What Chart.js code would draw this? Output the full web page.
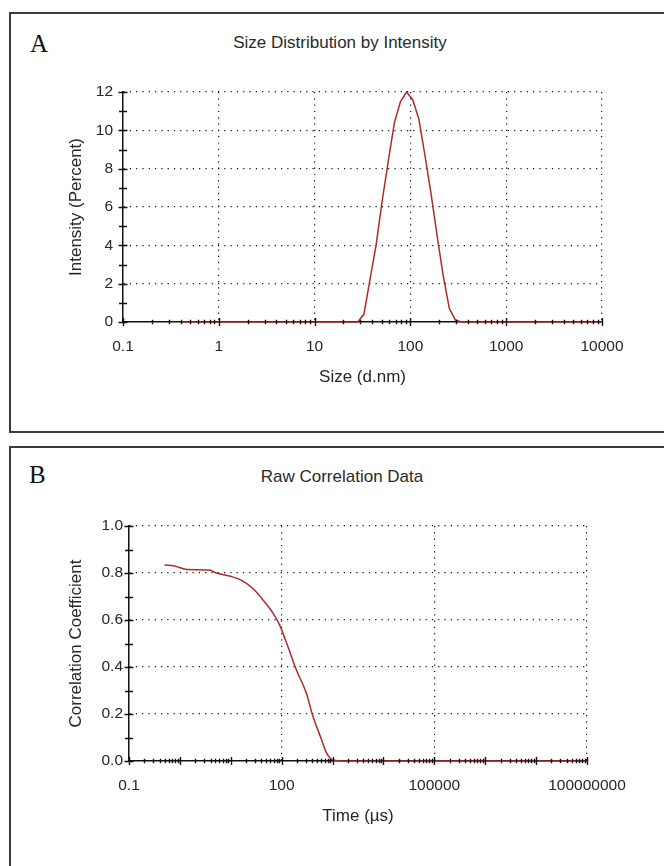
<!DOCTYPE html>
<html>
<head>
<meta charset="utf-8">
<script src="https://cdn.jsdelivr.net/npm/chart.js@4.4.1/dist/chart.umd.min.js"></script>
<style>
  html, body { margin: 0; padding: 0; background: #fff; }
  body { width: 664px; height: 866px; position: relative; overflow: hidden; }
  .panel { position: absolute; left: 9px; width: 720px; border: 2px solid #3a3a3a; box-sizing: border-box; background: #fff; }
  .letter { position: absolute; font-family: "Liberation Serif", serif; font-size: 25px; line-height: 25px; color: #111; }
  .ttl { position: absolute; left: 0; text-align: center; font-family: "Liberation Sans", Arial, sans-serif; font-size: 17px; line-height: 20px; color: #2a2a2a; }
  canvas { position: absolute; left: 0; }
</style>
</head>
<body>
<div class="panel" style="top:12px; height:421px;"></div>
<div class="panel" style="top:446px; height:440px;"></div>
<div class="letter" style="left:30px; top:31px;">A</div>
<div class="letter" style="left:29px; top:462px;">B</div>
<div class="ttl" style="top:33px; width:680px;">Size Distribution by Intensity</div>
<div class="ttl" style="top:467px; width:684px;">Raw Correlation Data</div>
<canvas id="chartA" width="664" height="410" style="top:0px;"></canvas>
<canvas id="chartB" width="664" height="414" style="top:435px;"></canvas>
<script>
// A: size distribution by intensity
const sizeNm = [0.4, 1, 10, 28.2, 32.7, 37.8, 43.8, 50.7, 58.8, 68.1, 78.8, 91.3, 105.7, 122.4, 141.8, 164.2, 190.1, 220.2, 255.0, 295.3, 342.0, 1000, 10000];
const intensityPct = [0, 0, 0, 0, 0.4, 2.2, 4.0, 6.3, 8.4, 10.4, 11.5, 12.0, 11.6, 10.6, 8.7, 6.7, 4.5, 2.4, 0.7, 0.1, 0, 0, 0];
const sizeTicks = [0.1, 1, 10, 100, 1000, 10000];
const intensityTicks = [0, 2, 4, 6, 8, 10, 12];

// B: raw correlation data
const timeUs = [0.5, 0.75, 1.4, 3.8, 5.2, 9.5, 16, 27, 43, 68, 91, 133, 195, 306, 413, 612, 740, 900, 1150, 1500, 10000, 1000000, 100000000];
const corrCoef = [0.834, 0.831, 0.815, 0.813, 0.800, 0.787, 0.770, 0.735, 0.685, 0.628, 0.579, 0.486, 0.387, 0.288, 0.189, 0.089, 0.040, 0.012, 0.002, 0, 0, 0, 0];
const timeTicks = [0.1, 100, 100000, 100000000];
const corrTicks = [0.0, 0.2, 0.4, 0.6, 0.8, 1.0];

const lineRed = '#ad2b2b';
const textCol = '#262626';
const gridCol = '#111';

// decade + 2..9 minor positions for a log axis
function logTickValues(min, max) {
  const out = [];
  for (let e = Math.round(Math.log10(min)); e <= Math.round(Math.log10(max)); e++) {
    const d = Math.pow(10, e);
    out.push(d);
    if (d < max) for (let m = 2; m <= 9; m++) out.push(m * d);
  }
  return out;
}
function linTickValues(max, step) {
  const out = [];
  const n = Math.round(max / step);
  for (let i = 0; i <= n; i++) out.push(+(i * step).toFixed(3));
  return out;
}
const near = (a, b) => Math.abs(a - b) < 1e-9 * Math.max(1, Math.abs(b));
const isIn = (v, list) => list.some(t => near(v, t));

// short tick marks that cross the axis lines
const crossTicks = {
  id: 'crossTicks',
  afterDatasetsDraw(chart) {
    const { ctx, chartArea } = chart;
    const xs = chart.scales.x, ys = chart.scales.y;
    ctx.save();
    ctx.strokeStyle = '#111';
    ctx.lineWidth = 1.4;
    ctx.beginPath();
    xs.ticks.forEach(t => {
      const px = Math.round(xs.getPixelForValue(t.value)) + 0.5;
      const len = t.decade ? 4 : 2.2;
      ctx.moveTo(px, chartArea.bottom - len);
      ctx.lineTo(px, chartArea.bottom + len);
    });
    ys.ticks.forEach(t => {
      const py = Math.round(ys.getPixelForValue(t.value)) + 0.5;
      const len = t.labeled ? 4.5 : 4;
      ctx.moveTo(chartArea.left - len, py);
      ctx.lineTo(chartArea.left + len, py);
    });
    ctx.stroke();
    ctx.restore();
  }
};

function makeChart(id, cfg) {
  const font = { family: '"Liberation Sans", Arial, sans-serif', size: 17 };
  const tickFont = { family: '"Liberation Sans", Arial, sans-serif', size: 15.5 };
  return new Chart(document.getElementById(id), {
    type: 'line',
    data: {
      datasets: [{
        data: cfg.xs.map((x, i) => ({ x: x, y: cfg.ys[i] })),
        borderColor: lineRed,
        borderWidth: 1.5,
        pointRadius: 0,
        tension: 0,
        cubicInterpolationMode: cfg.smooth ? 'monotone' : 'default',
        clip: false
      }]
    },
    options: {
      responsive: false,
      devicePixelRatio: 1,
      animation: false,
      layout: { padding: { left: 0, top: cfg.padTop, right: cfg.padRight, bottom: 8 } },
      plugins: {
        legend: { display: false },
        tooltip: { enabled: false },
        title: { display: false }
      },
      scales: {
        x: {
          type: 'logarithmic',
          min: cfg.xMin,
          max: cfg.xMax,
          afterBuildTicks: (scale) => {
            scale.ticks = logTickValues(cfg.xMin, cfg.xMax).map(v => ({
              value: v,
              decade: near(Math.log10(v), Math.round(Math.log10(v)))
            }));
          },
          afterFit: (scale) => { scale.height = 80; },
          ticks: {
            autoSkip: false,
            maxRotation: 0,
            minRotation: 0,
            padding: 15,
            color: textCol,
            font: tickFont,
            callback: (v) => isIn(v, cfg.xLabels) ? String(v) : ''
          },
          grid: {
            drawTicks: false,
            lineWidth: 1.2,
            color: (c) => (c.tick && isIn(c.tick.value, cfg.xLabels) && !near(c.tick.value, cfg.xMin)) ? gridCol : 'rgba(0,0,0,0)'
          },
          border: { display: true, color: '#111', width: 1.5, dash: [1.2, 5.1] },
          title: {
            display: true,
            text: cfg.xTitle,
            color: textCol,
            font: font,
            padding: { top: 0, bottom: 14 }
          }
        },
        y: {
          type: 'linear',
          min: 0,
          max: cfg.yMax,
          afterBuildTicks: (scale) => {
            scale.ticks = linTickValues(cfg.yMax, cfg.yStep).map(v => ({
              value: v,
              labeled: isIn(v, cfg.yLabels)
            }));
          },
          afterFit: (scale) => { scale.width = cfg.axisLeft; },
          ticks: {
            autoSkip: false,
            padding: cfg.yPad,
            color: textCol,
            font: tickFont,
            callback: (v) => isIn(v, cfg.yLabels) ? cfg.yFmt(v) : ''
          },
          grid: {
            drawTicks: false,
            lineWidth: 1.2,
            color: (c) => (c.tick && isIn(c.tick.value, cfg.yLabels) && c.tick.value > 0) ? gridCol : 'rgba(0,0,0,0)'
          },
          border: { display: true, color: '#111', width: 1.5, dash: [1.2, 5.1] },
          title: {
            display: true,
            text: cfg.yTitle,
            color: textCol,
            font: font,
            padding: { top: 66, bottom: 0 }
          }
        }
      }
    },
    plugins: [crossTicks]
  });
}

makeChart('chartA', {
  xs: sizeNm, ys: intensityPct,
  xMin: 0.1, xMax: 10000, xLabels: sizeTicks,
  yMax: 12, yStep: 1, yLabels: intensityTicks, yFmt: (v) => String(v),
  xTitle: 'Size (d.nm)', yTitle: 'Intensity (Percent)',
  padTop: 92, padRight: 62, axisLeft: 123, yPad: 10, smooth: false
});

makeChart('chartB', {
  xs: timeUs, ys: corrCoef,
  xMin: 0.1, xMax: 100000000, xLabels: timeTicks,
  yMax: 1, yStep: 0.1, yLabels: corrTicks, yFmt: (v) => v.toFixed(1),
  xTitle: 'Time (µs)', yTitle: 'Correlation Coefficient',
  padTop: 91, padRight: 77, axisLeft: 129, yPad: 6, smooth: true
});
</script>
</body>
</html>
